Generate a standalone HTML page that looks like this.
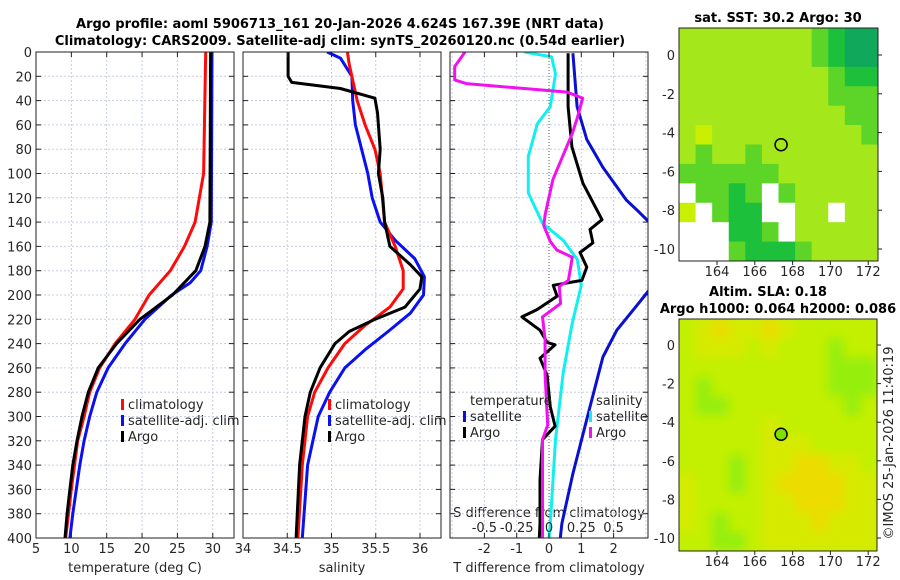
<!DOCTYPE html>
<html><head><meta charset="utf-8"><style>
html,body{margin:0;padding:0;background:#fff;}
svg{display:block;font-family:"DejaVu Sans","Liberation Sans",sans-serif;}
.t{font-size:13px;fill:#262626;}
.b{font-size:13px;font-weight:bold;fill:#000;}
</style></head><body>
<svg id="c" width="900" height="580" viewBox="0 0 900 580" xmlns="http://www.w3.org/2000/svg">
<defs>
<clipPath id="c1"><rect x="36" y="52" width="198" height="486"/></clipPath>
<clipPath id="c2"><rect x="243" y="52" width="198" height="486"/></clipPath>
<clipPath id="c3"><rect x="450" y="52" width="198" height="486"/></clipPath>
<clipPath id="cm2"><rect x="679" y="319" width="198" height="232"/></clipPath>
<filter id="bl" x="-5%" y="-5%" width="110%" height="110%"><feGaussianBlur stdDeviation="5"/></filter>
</defs>
<text class="b" x="340" y="28" text-anchor="middle">Argo profile: aoml 5906713_161 20-Jan-2026 4.624S 167.39E (NRT data)</text>
<text class="b" x="340" y="45" text-anchor="middle">Climatology: CARS2009. Satellite-adj clim: synTS_20260120.nc (0.54d earlier)</text>
<text class="b" x="778" y="22" text-anchor="middle">sat. SST: 30.2 Argo: 30</text>
<text class="b" x="768" y="296" text-anchor="middle">Altim. SLA: 0.18</text>
<text class="b" x="778" y="313" text-anchor="middle">Argo h1000: 0.064 h2000: 0.086</text>
<text class="t" transform="translate(893,443) rotate(-90)" text-anchor="middle">©IMOS 25-Jan-2026 11:40:19</text>
<text class="t" x="135" y="572" text-anchor="middle">temperature (deg C)</text>
<text class="t" x="342" y="572" text-anchor="middle">salinity</text>
<text class="t" x="549" y="572" text-anchor="middle">T difference from climatology</text>
<text class="t" x="549" y="517" text-anchor="middle">S difference from climatology</text>
<g id="g"></g>
</svg>
<script>
const depthTicks=[0,20,40,60,80,100,120,140,160,180,200,220,240,260,280,300,320,340,360,380,400];
const tempTicks=[5,10,15,20,25,30];
const salTicks=[34,34.5,35,35.5,36];
const tdiffTicks=[-2,-1,0,1,2];
const sdiffTicks=[-0.5,-0.25,0,0.25,0.5];
const lonTicks=[164,166,168,170,172];
const latTicks=[0,-2,-4,-6,-8,-10];

const tArgoD=[0,140,160,180,200,220,240,260,280,300,320,340,360,380,400];
const tArgo=[29.7,29.6,28.9,27.6,24.3,19.7,16.4,13.8,12.4,11.5,10.8,10.2,9.8,9.4,9.1];
const tClimD=[0,100,140,160,180,200,220,240,260,280,300,320,360,400];
const tClim=[29.0,28.7,27.5,26.0,24.0,21.0,19.0,16.2,14.0,12.6,11.8,10.9,10.0,9.2];
const tSatD=[0,140,160,180,190,200,220,240,260,280,300,320,340,360,380,400];
const tSat=[29.9,29.8,29.2,28.3,26.8,24.2,20.4,17.6,15.2,13.6,12.6,11.8,11.2,10.7,10.2,9.8];

const sArgoD=[0,20,25,30,38,50,80,100,120,140,160,175,185,195,210,220,230,240,260,280,300,340,400];
const sArgo=[34.51,34.51,34.55,35.1,35.49,35.52,35.55,35.53,35.58,35.6,35.66,35.89,36.02,36.0,35.83,35.49,35.2,35.04,34.87,34.76,34.7,34.64,34.6];
const sClimD=[0,10,40,60,80,100,140,160,180,195,210,225,240,260,280,300,340,400];
const sClim=[35.18,35.2,35.29,35.38,35.49,35.55,35.6,35.72,35.81,35.81,35.66,35.38,35.15,34.96,34.81,34.73,34.67,34.62];
const sSatD=[0,5,20,40,60,80,100,120,140,155,170,185,200,215,230,245,260,280,300,340,400];
const sSat=[34.95,35.1,35.23,35.24,35.27,35.34,35.41,35.46,35.55,35.72,35.94,36.05,36.04,35.89,35.64,35.38,35.15,34.98,34.85,34.73,34.67];

const dtSatD=[1,45,72,95,122,132,140,150,186,196,206,229,251,292,347,388,400];
const dtSat=[0.74,0.87,1.17,1.67,2.4,2.8,3.1,3.6,3.6,3.1,2.8,2.1,1.67,1.27,0.74,0.4,0.35];
const dtArgoD=[1,45,78,108,138,146,157,165,177,188,192,201,212,218,229,239,241,252,266,292,308,319,352,388,400];
const dtArgo=[0.59,0.59,0.71,1.05,1.64,1.27,1.36,0.96,1.17,1.02,0.13,0.25,-0.37,-0.84,-0.28,-0.06,0.19,-0.28,-0.06,0.04,0.19,-0.2,-0.28,-0.28,-0.3];
const dsSatD=[0,4,18,45,59,86,116,141,155,171,192,223,264,319,388,400];
const dsSat=[-0.19,0.02,0.05,0.01,-0.09,-0.16,-0.16,-0.05,0.11,0.22,0.25,0.18,0.11,0.05,0.01,0.0];
const dsArgoD=[0,12,23,26,33,38,54,67,105,134,143,156,163,169,188,193,207,218,237,266,307,319,388,400];
const dsArgo=[-0.65,-0.73,-0.73,-0.64,0.14,0.26,0.22,0.18,0.03,-0.03,-0.04,0.01,0.06,0.18,0.15,0.08,0.09,-0.05,-0.03,-0.03,-0.01,-0.05,-0.05,-0.05];

const sstGrid=[
[1,1,1,1,1,1,1,1,2,3,4,4],
[1,1,1,1,1,1,1,1,2,3,4,4],
[1,1,1,1,1,1,1,1,1,2,3,3],
[1,1,1,1,1,1,1,1,1,2,2,2],
[1,1,1,1,1,1,1,1,1,1,2,2],
[1,0,1,1,1,1,1,1,1,1,1,2],
[1,2,1,1,2,1,1,1,1,1,1,1],
[2,2,2,2,2,2,1,1,1,1,1,1],
[-1,2,2,3,2,-1,2,1,1,1,1,1],
[0,-1,2,3,3,-1,-1,1,1,-1,1,1],
[-1,-1,-1,3,3,2,-1,1,1,1,1,1],
[-1,-1,-1,2,3,3,3,2,1,1,1,1]];
const slaGrid=[
[2,1,0,1,1,0,1,2,2,2,2,2],
[2,1,1,1,2,1,2,2,2,3,2,2],
[2,2,2,2,2,2,2,2,2,3,3,3],
[2,3,2,2,2,2,2,2,2,3,3,3],
[2,3,3,2,2,2,2,2,2,2,3,2],
[2,2,2,2,2,1,2,2,2,2,2,2],
[2,2,2,2,2,1,1,1,2,2,2,2],
[2,2,2,3,2,1,1,0,0,1,1,2],
[1,2,2,3,2,1,0,0,0,0,1,1],
[1,2,2,2,2,1,1,0,0,0,1,1],
[1,2,3,2,2,1,1,1,0,1,1,1],
[2,2,3,3,2,1,1,1,1,1,1,1]];
const argoLon=[167.39];
const argoLat=[-4.624];

const NS='http://www.w3.org/2000/svg';
const G=document.getElementById('g');
function mk(tag,at,parent,txt){const e=document.createElementNS(NS,tag);for(const k in at)e.setAttribute(k,at[k]);if(txt!==undefined)e.textContent=txt;(parent||G).appendChild(e);return e;}
const Y=d=>52+d*1.215;
const X1=v=>36+(v-5)*7.07;
const X2=v=>243+(v-34)*88.5;
const X3=v=>549+v*32.3;
const XS=v=>549+v*129.2;
const MX=lon=>717+(lon-164)*18.9;
const MY1=lat=>55-lat*19.4;
const MY2=lat=>345-lat*19.3;

function grid(x0,x1,xs,fx,ticks,labelFn,ylabels){
  const g=mk('g',{});
  
  
  xs.forEach(v=>{mk('line',{x1:fx(v),x2:fx(v),y1:52,y2:538,stroke:'#c8cde6','stroke-width':1,'stroke-dasharray':'2,2'},g);});
  depthTicks.forEach(d=>{if(d>0&&d<400)mk('line',{x1:x0,x2:x1,y1:Y(d),y2:Y(d),stroke:'#c8cde6','stroke-width':1,'stroke-dasharray':'2,2'},g);
    mk('line',{x1:x0,x2:x0+5,y1:Y(d),y2:Y(d),stroke:'#222'},g);mk('line',{x1:x1-5,x2:x1,y1:Y(d),y2:Y(d),stroke:'#222'},g);
    if(ylabels){const t=mk('text',{x:x0-4,y:Y(d)+5,class:'t','text-anchor':'end'},G,String(d));}
  });
}
function frame(x0,name){const r=mk('rect',{x:x0,y:52,width:198,height:486,fill:'none',stroke:'#222','stroke-width':1});}
function line(ds,vs,fx,color,clip,name,w){
  const pts=ds.map((d,i)=>fx(vs[i]).toFixed(1)+','+Y(d).toFixed(1)).join(' ');
  const p=mk('polyline',{points:pts,fill:'none',stroke:color,'stroke-width':w||3,'stroke-linejoin':'round','clip-path':'url(#'+clip+')'});
  
}
function xlabels(ticks,fx,y,name,fmt){ticks.forEach(v=>{const t=mk('text',{x:fx(v),y:y,class:'t','text-anchor':'middle'},G,fmt?fmt(v):String(v));
  mk('line',{x1:fx(v),x2:fx(v),y1:538,y2:533,stroke:'#222'});mk('line',{x1:fx(v),x2:fx(v),y1:52,y2:57,stroke:'#222'});});}

grid(36,234,tempTicks,X1,null,null,true);
line(tSatD,tSat,X1,'#0a10f0','c1','temp-satellite-line');
line(tClimD,tClim,X1,'#ff0a0a','c1','temp-climatology-line');
line(tArgoD,tArgo,X1,'#000','c1','temp-argo-line');
frame(36,'temperature-panel');
xlabels(tempTicks,X1,553,'temperature-tick-label');

grid(243,441,salTicks.slice(1),X2);
line(sSatD,sSat,X2,'#0a10f0','c2','salinity-satellite-line');
line(sClimD,sClim,X2,'#ff0a0a','c2','salinity-climatology-line');
line(sArgoD,sArgo,X2,'#000','c2','salinity-argo-line');
frame(243,'salinity-panel');
xlabels(salTicks,X2,553,'salinity-tick-label');

grid(450,648,[-3,-2,-1,1,2,3],X3);
mk('line',{x1:549,x2:549,y1:52,y2:538,stroke:'#555','stroke-width':1,'stroke-dasharray':'1,2'});
line(dsSatD,dsSat,XS,'#10f0f0','c3','salinity-diff-satellite-line');
line(dtSatD,dtSat,X3,'#0a10d0','c3','temp-diff-satellite-line');
line(dtArgoD,dtArgo,X3,'#000','c3','temp-diff-argo-line');
line(dsArgoD,dsArgo,XS,'#f010f0','c3','salinity-diff-argo-line');
frame(450,'difference-panel');
xlabels(tdiffTicks,X3,553,'t-diff-tick-label');
sdiffTicks.forEach(v=>{const t=mk('text',{x:XS(v),y:532,class:'t','text-anchor':'middle'},G,String(v));});

function leg(x,y,color,label,name){const g=mk('g',{});
  if(color)mk('rect',{x:x,y:y-10,width:3,height:11,fill:color},g);mk('text',{x:x+7,y:y,class:'t'},g,label);}
leg(121,409,'#ff0a0a','climatology','legend-climatology');
leg(121,425,'#0a10f0','satellite-adj. clim','legend-satellite-adj');
leg(121,441,'#000','Argo','legend-argo');
leg(328,409,'#ff0a0a','climatology','legend-climatology-sal');
leg(328,425,'#0a10f0','satellite-adj. clim','legend-satellite-adj-sal');
leg(328,441,'#000','Argo','legend-argo-sal');
leg(463,405,null,'temperature','legend-temperature-header');
leg(463,421,'#0a10d0','satellite','legend-temp-satellite');
leg(463,437,'#000','Argo','legend-temp-argo');
leg(589,405,null,'salinity','legend-salinity-header');
leg(589,421,'#10f0f0','satellite','legend-sal-satellite');
leg(589,437,'#f010f0','Argo','legend-sal-argo');

const sstCol={'-1':'#ffffff','0':'#c8f000','1':'#a4e81c','2':'#5cd428','3':'#1cc03a','4':'#10a85a'};
const slaCol={'0':'#ecdc00','1':'#d6ea00','2':'#c2f000','3':'#96ee08'};
function map(gridv,cols,x0,y0,w,h,fy,name,blur){
  const g=mk('g',{});
  const nr=gridv.length,nc=gridv[0].length,cw=w/nc,ch=h/nr;
  const cg=mk('g',blur?{'clip-path':'url(#cm2)'}:{},g);
  const inner=mk('g',blur?{filter:'url(#bl)'}:{},cg);
  if(blur)mk('rect',{x:x0-10,y:y0-10,width:w+20,height:h+20,fill:cols['2']},inner);
  gridv.forEach((row,r)=>row.forEach((v,c)=>{const cell=mk('rect',{x:x0+c*cw,y:y0+r*ch,width:cw+0.5,height:ch+0.5,fill:cols[String(v)]},inner);
    }));
  mk('rect',{x:x0,y:y0,width:w,height:h,fill:'none',stroke:'#222'},g);
  lonTicks.forEach(l=>{mk('line',{x1:MX(l),x2:MX(l),y1:y0+h,y2:y0+h+4,stroke:'#222'},g);const t=mk('text',{x:MX(l),y:y0+h+15,class:'t','text-anchor':'middle'},g,String(l));});
  latTicks.forEach(l=>{mk('line',{x1:x0+w,x2:x0+w+4,y1:fy(l),y2:fy(l),stroke:'#222'},g);const t=mk('text',{x:x0-4,y:fy(l)+5,class:'t','text-anchor':'end'},g,String(l));});
  const m=mk('circle',{cx:MX(argoLon[0]),cy:fy(argoLat[0]),r:6,fill:name==='sla-map'?'#80e000':'none',stroke:'#000','stroke-width':1.5},g);
  
}
map(sstGrid,sstCol,679,28,199,233,MY1,'sst-map',false);
map(slaGrid,slaCol,679,319,198,232,MY2,'sla-map',true);
</script>
</body></html>
